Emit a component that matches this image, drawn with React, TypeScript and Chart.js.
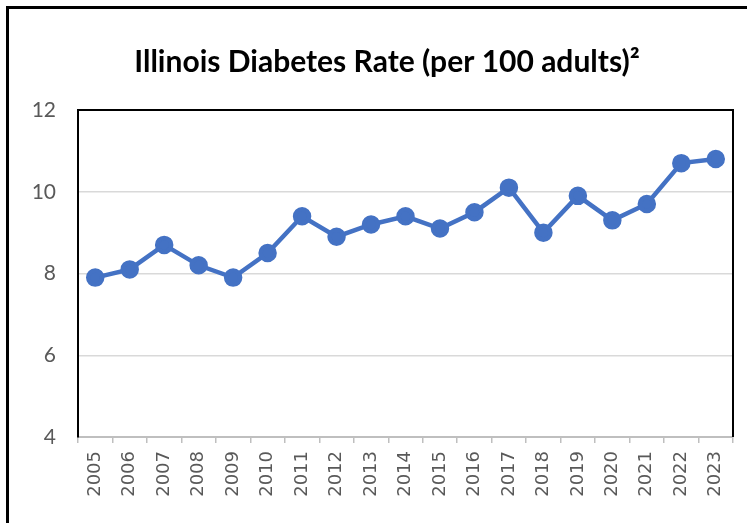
import React, { useEffect, useRef } from "react";
import { Chart, registerables } from "chart.js";

Chart.register(...registerables);

const years = ["2005","2006","2007","2008","2009","2010","2011","2012","2013","2014","2015","2016","2017","2018","2019","2020","2021","2022","2023"];
const rates = [7.9, 8.1, 8.7, 8.2, 7.9, 8.5, 9.4, 8.9, 9.2, 9.4, 9.1, 9.5, 10.1, 9.0, 9.9, 9.3, 9.7, 10.7, 10.8];
const titleText = "Illinois Diabetes Rate (per 100 adults)²";
const yMin = 4;
const yMax = 12;
const yStep = 2;

const framePlugin = {
  id: "frame",
  beforeDraw(chart: any) {
    const ctx = chart.ctx;
    ctx.save();
    ctx.fillStyle = "#ffffff";
    ctx.fillRect(0, 0, chart.width, chart.height);
    ctx.strokeStyle = "#000000";
    ctx.lineWidth = 3;
    ctx.beginPath();
    ctx.moveTo(7.5, chart.height);
    ctx.lineTo(7.5, 7.5);
    ctx.lineTo(chart.width, 7.5);
    ctx.stroke();
    ctx.fillStyle = "#000000";
    ctx.font = "bold 30px Lato";
    ctx.textAlign = "center";
    ctx.textBaseline = "middle";
    ctx.fillText(titleText, 387, 62);
    ctx.restore();
  },
  afterDatasetsDraw(chart: any) {
    const { ctx, chartArea } = chart;
    ctx.save();
    ctx.strokeStyle = "#000000";
    ctx.lineWidth = 2;
    ctx.beginPath();
    ctx.moveTo(chartArea.left, chartArea.bottom);
    ctx.lineTo(chartArea.left, chartArea.top);
    ctx.lineTo(chartArea.right, chartArea.top);
    ctx.lineTo(chartArea.right, chartArea.bottom);
    ctx.stroke();
    ctx.restore();
  },
};

export default function App() {
  const ref = useRef<HTMLCanvasElement | null>(null);
  useEffect(() => {
    if (!ref.current) return;
    const chart = new Chart(ref.current, {
      type: "line",
      data: {
        labels: years,
        datasets: [
          {
            data: rates,
            borderColor: "#4472C4",
            backgroundColor: "#4472C4",
            borderWidth: 4.5,
            pointRadius: 7,
            pointHoverRadius: 7,
            pointBackgroundColor: "#4472C4",
            pointBorderColor: "#4472C4",
            tension: 0,
          },
        ],
      },
      options: {
        responsive: false,
        animation: false,
        layout: { padding: { left: 0, right: 14, top: 110, bottom: 0 } },
        plugins: {
          legend: { display: false },
          tooltip: { enabled: false },
          title: { display: false },
        },
        scales: {
          x: {
            offset: true,
            grid: {
              offset: true,
              drawOnChartArea: false,
              drawTicks: true,
              tickLength: 6,
              color: "#bfbfbf",
              lineWidth: 1.5,
            },
            border: { color: "#bfbfbf", width: 2 },
            ticks: {
              minRotation: 90,
              maxRotation: 90,
              autoSkip: false,
              padding: 8,
              color: "#595959",
              font: { family: "DejaVu Sans", size: 18 },
            },
            afterFit(scale: any) {
              scale.height = 86;
            },
          },
          y: {
            min: yMin,
            max: yMax,
            grid: { color: "#d9d9d9", lineWidth: 1.5, drawTicks: false },
            border: { color: "#000000", width: 2 },
            ticks: {
              stepSize: yStep,
              padding: 22,
              color: "#595959",
              font: { family: "Lato", size: 21 },
            },
            afterFit(scale: any) {
              scale.width = 78;
            },
          },
        },
      },
      plugins: [framePlugin],
    });
    return () => chart.destroy();
  }, []);
  return (
    <div style={{ position: "absolute", left: 0, top: 0, width: 747, height: 523, background: "#fff" }}>
      <canvas ref={ref} width={747} height={523} style={{ width: 747, height: 523, display: "block" }} />
    </div>
  );
}
